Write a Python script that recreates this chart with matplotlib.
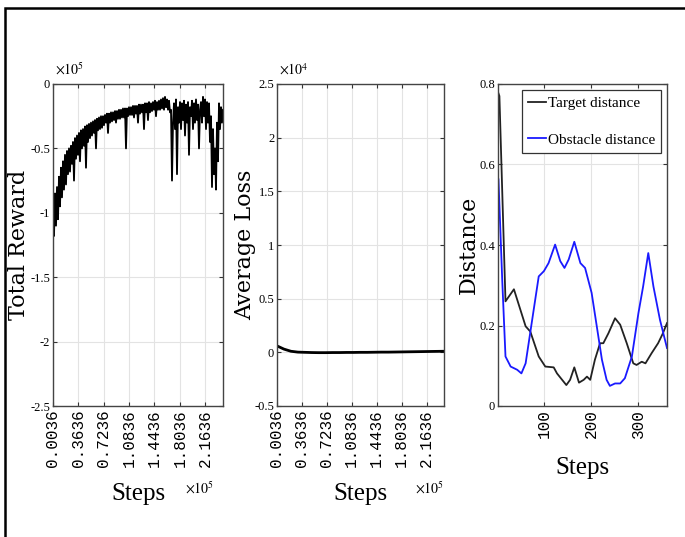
import numpy as np
import matplotlib
matplotlib.use('Agg')
import matplotlib.pyplot as plt
from matplotlib.patches import Rectangle

plt.rcParams['mathtext.fontset'] = 'stix'

# training reward per episode (x1e5), read along the training run
reward = [
    -0.95, -1.18, -0.85, -1.10, -0.80, -1.05, -0.72, -0.95,
    -0.65, -0.88, -0.60, -0.82, -0.55, -0.78, -0.52, -0.70, -0.50, -0.68,
    -0.48, -0.62, -0.45, -0.75, -0.42, -0.58, -0.40, -0.55, -0.38, -0.60,
    -0.36, -0.50, -0.35, -0.48, -0.33, -0.65, -0.32, -0.45, -0.31, -0.42,
    -0.30, -0.40, -0.29, -0.38, -0.28, -0.50, -0.27, -0.36, -0.26, -0.35,
    -0.25, -0.34, -0.25, -0.32, -0.24, -0.30, -0.23, -0.38, -0.23, -0.30,
    -0.22, -0.29, -0.22, -0.28, -0.21, -0.30, -0.21, -0.27, -0.20, -0.27,
    -0.20, -0.26, -0.19, -0.26, -0.19, -0.50, -0.19, -0.25, -0.18, -0.24,
    -0.18, -0.24, -0.17, -0.26, -0.17, -0.23, -0.17, -0.30, -0.16, -0.23,
    -0.16, -0.22, -0.16, -0.35, -0.15, -0.22, -0.15, -0.28, -0.14, -0.22,
    -0.15, -0.21, -0.14, -0.20, -0.13, -0.25, -0.14, -0.20, -0.13, -0.20,
    -0.12, -0.19, -0.11, -0.20, -0.10, -0.18, -0.12, -0.20, -0.13, -0.22,
    -0.20, -0.75, -0.30, -0.15, -0.35, -0.12, -0.70, -0.18, -0.30, -0.14,
    -0.35, -0.15, -0.28, -0.13, -0.40, -0.16, -0.30, -0.14, -0.55, -0.18,
    -0.25, -0.13, -0.35, -0.15, -0.30, -0.12, -0.28, -0.16, -0.50, -0.20,
    -0.14, -0.30, -0.10, -0.25, -0.12, -0.35, -0.14, -0.30, -0.15, -0.45,
    -0.25, -0.80, -0.35, -0.70, -0.50, -0.82, -0.30, -0.60,
    -0.15, -0.35, -0.18, -0.30, -0.20,
]

# average loss (x1e4)
loss = [0.06, 0.03, 0.01, 0.002, 0.0, -0.002, -0.003, -0.003, -0.002, -0.002,
        -0.001, -0.001, 0.0, 0.0, 0.001, 0.002, 0.002, 0.003, 0.004, 0.005,
        0.006, 0.007, 0.008, 0.009, 0.01]

# distances during one evaluation episode
dist_steps_target = [1, 4, 17, 35, 60, 70, 88, 102, 120, 127, 138, 147, 155, 164,
                     174, 184, 191, 198, 208, 219, 226, 237, 251, 262, 276, 290,
                     297, 308, 316, 329, 343, 353, 362]
target_dist = [0.78, 0.77, 0.26, 0.29, 0.198, 0.185, 0.123, 0.098, 0.096, 0.081,
               0.065, 0.052, 0.065, 0.096, 0.058, 0.065, 0.073, 0.065, 0.115,
               0.156, 0.156, 0.181, 0.218, 0.202, 0.156, 0.106, 0.102, 0.11,
               0.106, 0.131, 0.156, 0.18, 0.206]
dist_steps_obstacle = [2, 10, 17, 28, 42, 51, 60, 74, 88, 99, 109, 123, 134, 143,
                       152, 164, 177, 187, 201, 212, 223, 233, 240, 251, 262, 272,
                       287, 301, 311, 322, 333, 347, 362]
obstacle_dist = [0.563, 0.314, 0.123, 0.098, 0.09, 0.081, 0.106, 0.214, 0.322,
                 0.335, 0.355, 0.401, 0.36, 0.343, 0.364, 0.408, 0.355, 0.343,
                 0.281, 0.198, 0.115, 0.065, 0.05, 0.056, 0.056, 0.069, 0.123,
                 0.231, 0.297, 0.38, 0.297, 0.214, 0.144]

train_ticks = [0.0036, 0.3636, 0.7236, 1.0836, 1.4436, 1.8036, 2.1636]
train_ticklabels = ['0.0036', '0.3636', '0.7236', '1.0836', '1.4436', '1.8036', '2.1636']
reward_ticks = [-2.5, -2, -1.5, -1, -0.5, 0]
reward_ticklabels = ['-2.5', '-2', '-1.5', '-1', '-0.5', '0']
loss_ticks = [-0.5, 0, 0.5, 1, 1.5, 2, 2.5]
loss_ticklabels = ['-0.5', '0', '0.5', '1', '1.5', '2', '2.5']
dist_xticks = [100, 200, 300]
dist_yticks = [0, 0.2, 0.4, 0.6, 0.8]
dist_yticklabels = ['0', '0.2', '0.4', '0.6', '0.8']

train_xmax = 2.4156

serif = 'Liberation Serif'
label_font = 'DejaVu Serif'
mono = 'Liberation Mono'


def style_axes(ax):
    ax.grid(True, color='#e3e3e3', linewidth=0.8)
    ax.set_axisbelow(True)
    ax.tick_params(direction='in', top=True, right=True, length=3,
                   width=0.8, color='#333333', pad=2)
    for s in ax.spines.values():
        s.set_color('#444444')
        s.set_linewidth(1.0)


fig = plt.figure(figsize=(6.85, 5.37), dpi=100)
fig.patches.append(Rectangle((5 / 685, -0.1), 1.2, 1 - 8 / 537 + 0.1,
                             transform=fig.transFigure, fill=False,
                             edgecolor='black', linewidth=1.8))

ax1 = fig.add_axes([53 / 685, 131 / 537, 170 / 685, 322 / 537])
ax2 = fig.add_axes([277 / 685, 131 / 537, 167 / 685, 322 / 537])
ax3 = fig.add_axes([498 / 685, 131 / 537, 169 / 685, 322 / 537])

# reward curve
x_reward = np.linspace(train_ticks[0], train_xmax, len(reward))
ax1.plot(x_reward, reward, color='black', linewidth=1.3)
ax1.set_xlim(train_ticks[0], train_xmax)
ax1.set_ylim(-2.5, 0)
ax1.set_yticks(reward_ticks)
ax1.set_yticklabels(reward_ticklabels, family=serif, fontsize=9)
ax1.set_ylabel('Total Reward', family=label_font, fontsize=16)
ax1.yaxis.set_label_coords(-0.137, 0.5)

# loss curve
x_loss = np.linspace(train_ticks[0], train_xmax, len(loss))
ax2.plot(x_loss, loss, color='black', linewidth=2.0)
ax2.set_xlim(train_ticks[0], train_xmax)
ax2.set_ylim(-0.5, 2.5)
ax2.set_yticks(loss_ticks)
ax2.set_yticklabels(loss_ticklabels, family=serif, fontsize=9)
ax2.set_ylabel('Average Loss', family=label_font, fontsize=16)
ax2.yaxis.set_label_coords(-0.125, 0.5)

for ax in (ax1, ax2):
    ax.set_xticks(train_ticks)
    ax.set_xticklabels(train_ticklabels, family=mono, fontsize=11.5, rotation=90)
    ax.set_xlabel('Steps', family=serif, fontsize=18, labelpad=12)
    style_axes(ax)

for ax, exp, xr in ((ax1, '5', 0.95), (ax2, '4', 1.0)):
    ax.text(0.01, 1.02, r'$\times10^{%s}$' % exp, transform=ax.transAxes,
            fontsize=10, ha='left', va='bottom')
    ax.text(xr, -0.23, r'$\times10^{5}$', transform=ax.transAxes,
            fontsize=10, ha='right', va='top')

# distance curves
ax3.plot(dist_steps_target, target_dist, color='#222222', linewidth=1.3,
         label='Target distance')
ax3.plot(dist_steps_obstacle, obstacle_dist, color='#1a1aff', linewidth=1.3,
         label='Obstacle distance')
ax3.set_xlim(1, 362)
ax3.set_ylim(0, 0.8)
ax3.set_xticks(dist_xticks)
ax3.set_xticklabels([str(t) for t in dist_xticks], family=mono, fontsize=11.5,
                    rotation=90)
ax3.set_yticks(dist_yticks)
ax3.set_yticklabels(dist_yticklabels, family=serif, fontsize=9)
ax3.set_xlabel('Steps', family=serif, fontsize=18, labelpad=14)
ax3.set_ylabel('Distance', family=label_font, fontsize=16)
ax3.yaxis.set_label_coords(-0.11, 0.5)
style_axes(ax3)
leg = ax3.legend(loc='upper right', prop={'family': serif, 'size': 11},
                 handlelength=1.2, handletextpad=0.1, borderpad=0.4,
                 labelspacing=1.5, fancybox=False, framealpha=1,
                 edgecolor='#333333', borderaxespad=0.4)
leg.get_frame().set_linewidth(0.9)

fig.savefig('out.png', dpi=100)
